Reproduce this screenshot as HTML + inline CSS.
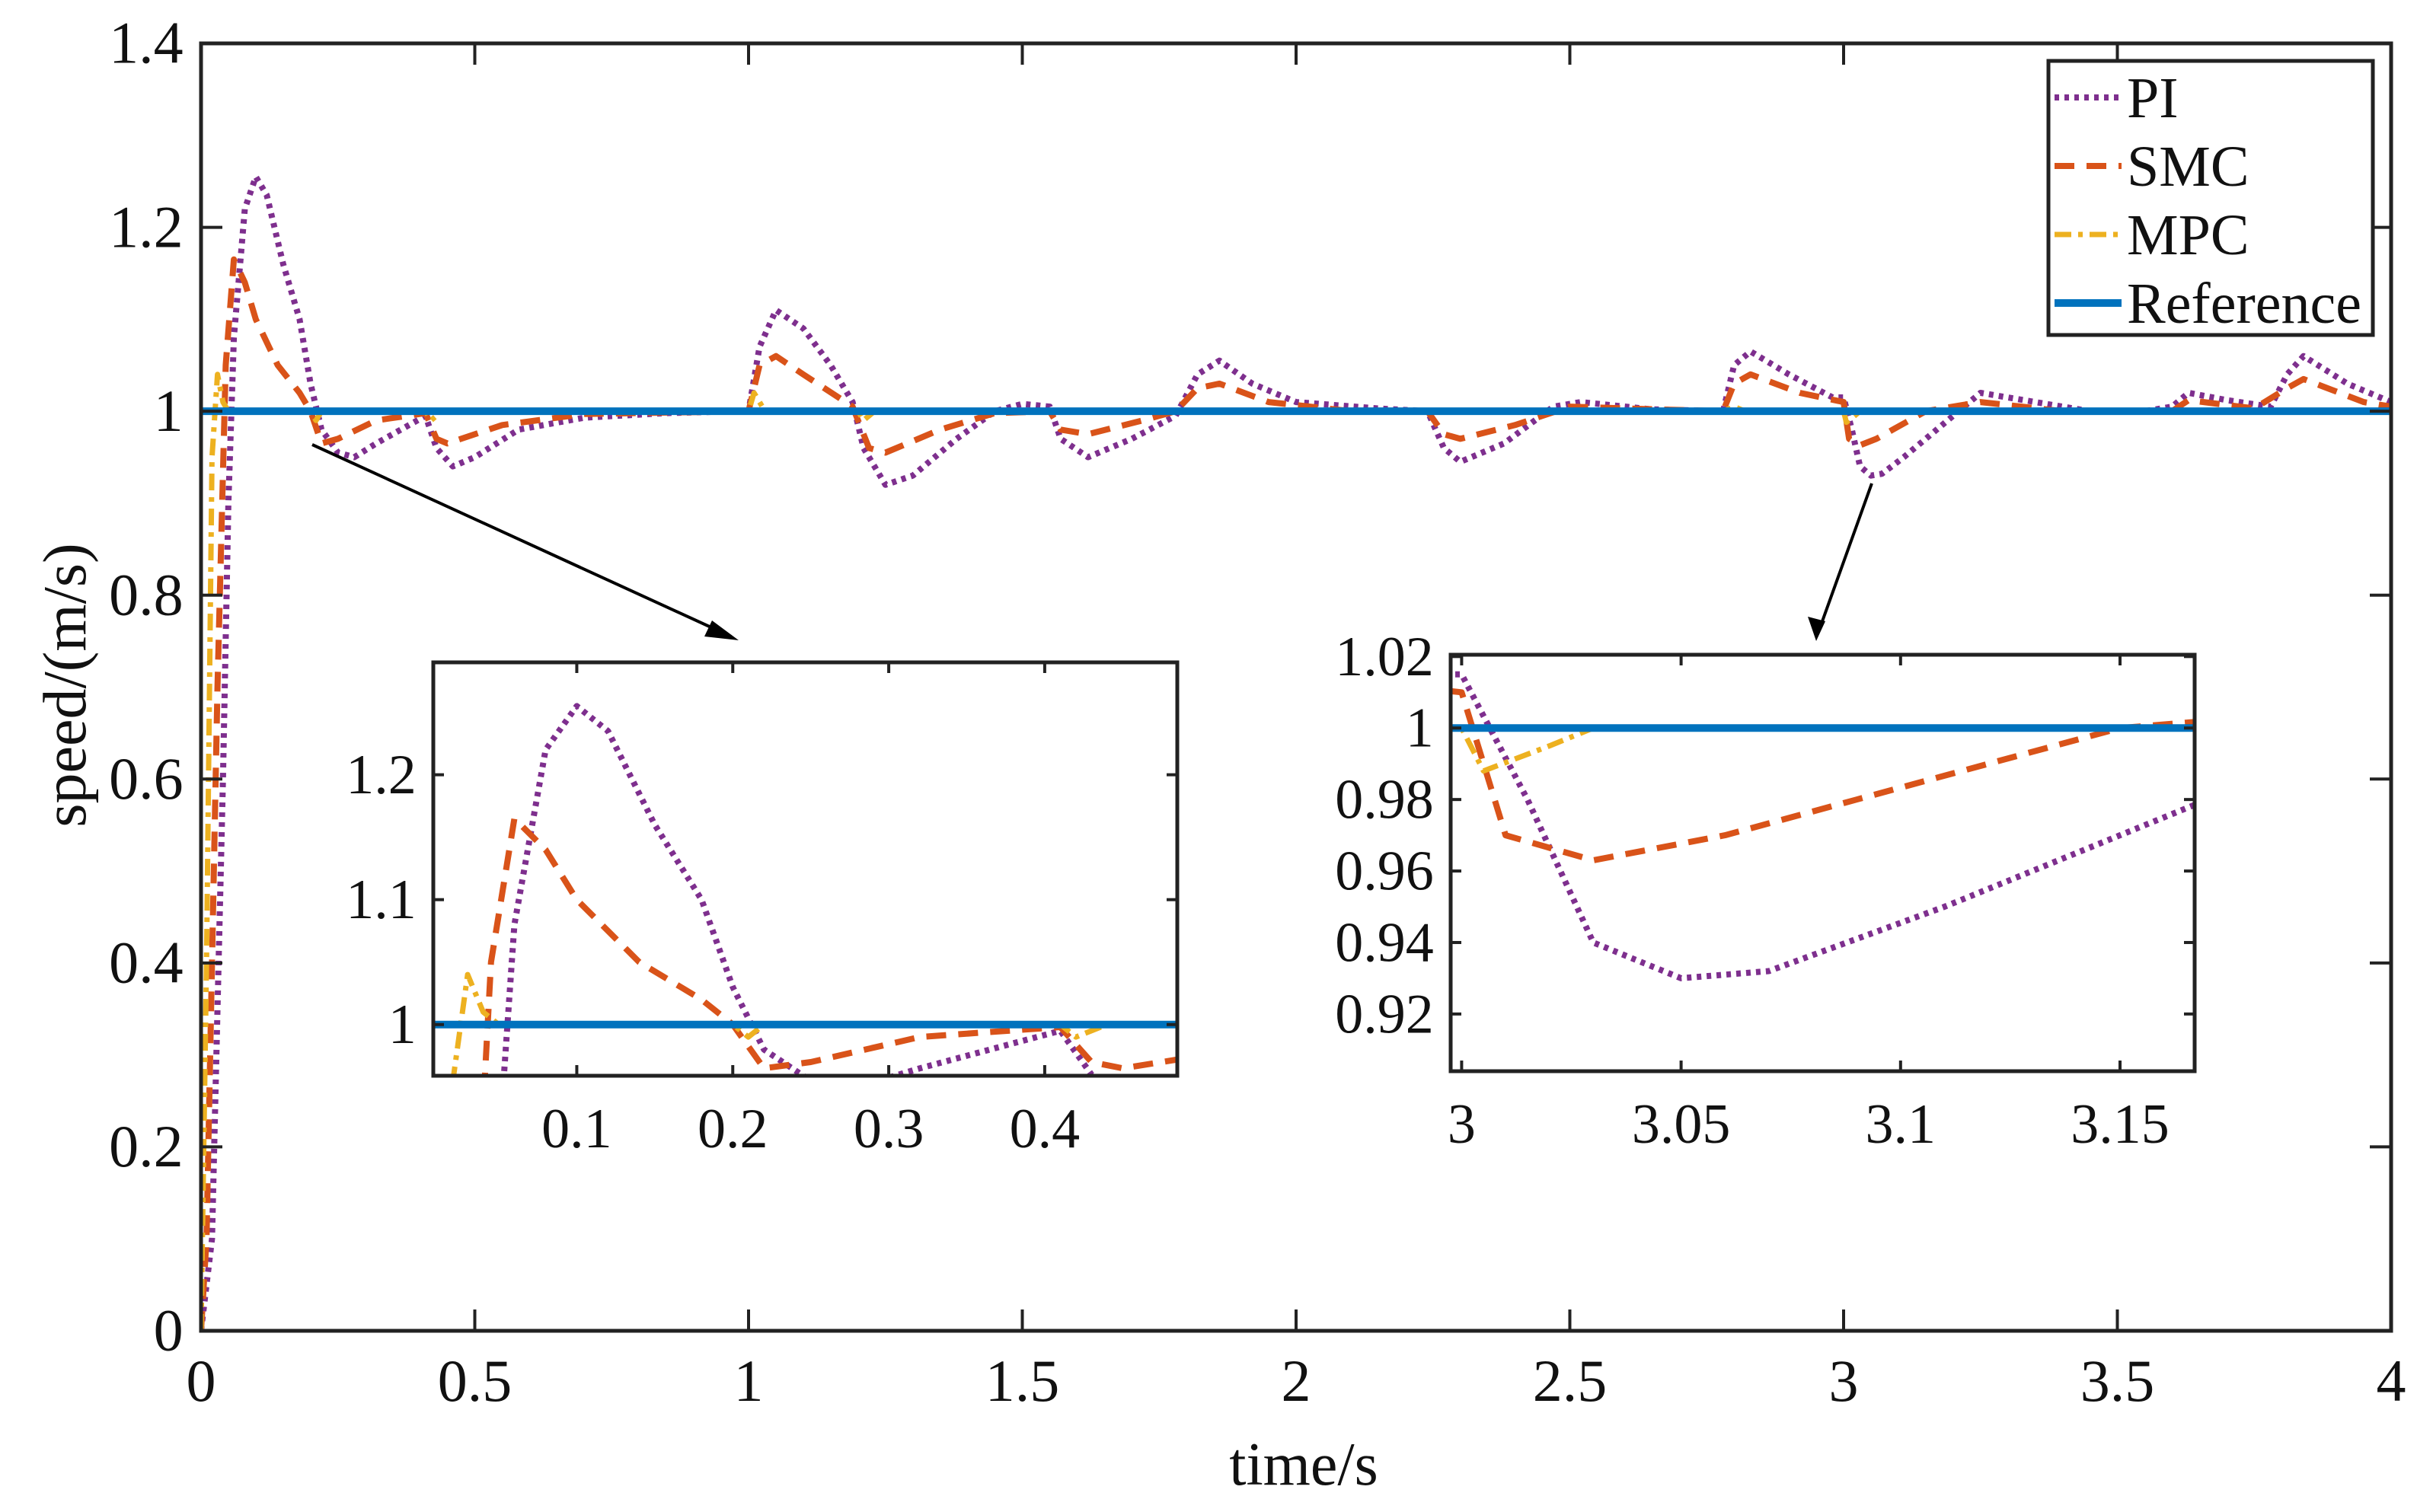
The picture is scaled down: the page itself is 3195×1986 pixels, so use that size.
<!DOCTYPE html>
<html><head><meta charset="utf-8"><style>
html,body{margin:0;padding:0;background:#fff;overflow:hidden;width:3195px;height:1986px;}
svg{display:block;font-family:"Liberation Serif",serif;}
</style></head><body>
<svg id="chart" xmlns="http://www.w3.org/2000/svg" width="3195" height="1986" viewBox="0 0 3195 1986">
<rect x="0" y="0" width="3195" height="1986" fill="#fff"/>
<g id="root"></g>
</svg>
<script>
// ---- data ----
const piT=[0,0.02,0.04,0.05,0.06,0.08,0.1,0.12,0.15,0.18,0.2,0.22,0.25,0.28,0.32,0.38,0.41,0.43,0.46,0.5,0.58,0.7,0.85,0.98,1.0,1.02,1.05,1.1,1.15,1.19,1.21,1.25,1.3,1.38,1.45,1.5,1.55,1.57,1.62,1.7,1.78,1.82,1.86,1.92,2.0,2.15,2.24,2.27,2.3,2.38,2.47,2.52,2.65,2.78,2.8,2.83,2.9,2.98,3.0,3.015,3.03,3.05,3.07,3.11,3.15,3.2,3.25,3.35,3.45,3.55,3.6,3.63,3.7,3.78,3.81,3.84,3.92,4.0];
const piV=[0,0.1,0.6,0.9,1.08,1.22,1.255,1.235,1.16,1.1,1.03,0.98,0.955,0.95,0.965,0.985,0.995,0.96,0.94,0.95,0.98,0.993,0.998,1.0,1.0,1.07,1.11,1.09,1.05,1.01,0.96,0.92,0.93,0.97,1.0,1.008,1.005,0.97,0.95,0.97,0.995,1.04,1.055,1.03,1.01,1.003,1.0,0.96,0.945,0.965,1.005,1.01,1.002,1.0,1.05,1.065,1.04,1.015,1.015,0.98,0.94,0.93,0.932,0.95,0.97,0.995,1.02,1.01,1.0,1.0,1.005,1.02,1.012,1.005,1.04,1.06,1.03,1.01];
const smcT=[0,0.01,0.03,0.045,0.06,0.08,0.1,0.14,0.18,0.2,0.22,0.25,0.32,0.41,0.43,0.45,0.55,0.7,1.0,1.02,1.05,1.1,1.19,1.22,1.25,1.35,1.45,1.55,1.57,1.62,1.72,1.78,1.82,1.86,1.95,2.1,2.24,2.27,2.3,2.4,2.5,2.6,2.78,2.8,2.83,2.92,3.0,3.01,3.03,3.06,3.09,3.12,3.15,3.2,3.25,3.4,3.6,3.63,3.75,3.81,3.84,3.95,4.0];
const smcV=[0,0.1,0.7,1.05,1.165,1.14,1.1,1.05,1.02,1.0,0.965,0.97,0.99,0.998,0.97,0.965,0.985,0.997,1.0,1.05,1.06,1.04,1.005,0.96,0.955,0.98,0.998,1.0,0.98,0.975,0.99,1.0,1.025,1.03,1.01,1.0,1.0,0.975,0.97,0.985,1.005,1.003,1.0,1.03,1.04,1.02,1.01,0.97,0.963,0.97,0.98,0.99,1.0,1.005,1.01,1.0,1.0,1.012,1.003,1.025,1.035,1.01,1.005];
const mpcT=[0,0.01,0.02,0.03,0.04,0.05,0.2,0.21,0.22,0.41,0.42,0.44,1.0,1.01,1.03,1.2,1.21,1.23,2.78,2.8,2.82,3.0,3.005,3.02,3.03,4.0];
const mpcV=[0,0.4,0.95,1.04,1.01,1.0,1.0,0.99,1.0,1.0,0.99,1.0,1.0,1.02,1.0,1.0,0.99,1.0,1.0,1.005,1.0,1.0,0.988,0.995,1.0,1.0];
const refT=[0,4];
const refV=[1,1];
const mainXTicks=[0,0.5,1,1.5,2,2.5,3,3.5,4];
const mainXLabels=["0","0.5","1","1.5","2","2.5","3","3.5","4"];
const mainYTicks=[0,0.2,0.4,0.6,0.8,1,1.2,1.4];
const mainYLabels=["0","0.2","0.4","0.6","0.8","1","1.2","1.4"];
const in1XTicks=[0.1,0.2,0.3,0.4];
const in1XLabels=["0.1","0.2","0.3","0.4"];
const in1YTicks=[1,1.1,1.2];
const in1YLabels=["1","1.1","1.2"];
const in2XTicks=[3,3.05,3.1,3.15];
const in2XLabels=["3","3.05","3.1","3.15"];
const in2YTicks=[0.92,0.94,0.96,0.98,1,1.02];
const in2YLabels=["0.92","0.94","0.96","0.98","1","1.02"];

const NS="http://www.w3.org/2000/svg";
const root=document.getElementById('root');
function mk(tag,attrs,parent){const e=document.createElementNS(NS,tag);for(const k in attrs)e.setAttribute(k,attrs[k]);(parent||root).appendChild(e);return e;}
function scale(d0,d1,r0,r1){return v=>r0+(v-d0)/(d1-d0)*(r1-r0);}

const series=[
 {name:'pi',t:piT,v:piV,color:'#7E2F8E',w:8,dash:'6 7'},
 {name:'smc',t:smcT,v:smcV,color:'#D95319',w:8,dash:'26 16'},
 {name:'mpc',t:mpcT,v:mpcV,color:'#EDB120',w:7,dash:'22 9 6 9'},
 {name:'reference',t:refT,v:refV,color:'#0072BD',w:10,dash:''}
];

function drawAxes(id,box,xd,yd,xt,xl,yt,yl,fs,tickLen,xlOff){
  const g=mk('g',{});
  
  
  const X=scale(xd[0],xd[1],box.x0,box.x1), Y=scale(yd[0],yd[1],box.y1,box.y0);
  mk('rect',{x:box.x0,y:box.y0,width:box.x1-box.x0,height:box.y1-box.y0,fill:'#fff'},g);
  const cp=mk('clipPath',{id:id+'-clip'},g);
  mk('rect',{x:box.x0,y:box.y0,width:box.x1-box.x0,height:box.y1-box.y0},cp);
  const lg=mk('g',{'clip-path':'url(#'+id+'-clip)'},g);
  series.forEach(s=>{
    const pts=s.t.map((t,i)=>X(t).toFixed(1)+','+Y(s.v[i]).toFixed(1)).join(' ');
    const p=mk('polyline',{points:pts,fill:'none',stroke:s.color,'stroke-width':s.w,'stroke-dasharray':s.dash,'stroke-linejoin':'round'},lg);
    
    
  });
  const fr=mk('rect',{x:box.x0,y:box.y0,width:box.x1-box.x0,height:box.y1-box.y0,fill:'none',stroke:'#222','stroke-width':5},g);
  
  
  xt.forEach((t,i)=>{
    const x=X(t);
    mk('line',{x1:x,y1:box.y1,x2:x,y2:box.y1-tickLen,stroke:'#222','stroke-width':4},g);
    mk('line',{x1:x,y1:box.y0,x2:x,y2:box.y0+tickLen,stroke:'#222','stroke-width':4},g);
    const tx=mk('text',{x:x,y:box.y1+xlOff,'font-size':fs,'text-anchor':'middle',fill:'#111'},g);
    tx.textContent=xl[i];
    
    
  });
  yt.forEach((t,i)=>{
    const y=Y(t);
    mk('line',{x1:box.x0,y1:y,x2:box.x0+tickLen,y2:y,stroke:'#222','stroke-width':4},g);
    mk('line',{x1:box.x1,y1:y,x2:box.x1-tickLen,y2:y,stroke:'#222','stroke-width':4},g);
    const ty=mk('text',{x:box.x0-fs*0.3,y:y+fs*0.33,'font-size':fs,'text-anchor':'end',fill:'#111'},g);
    ty.textContent=yl[i];
    
    
  });
}

drawAxes('main-axes',{x0:264,x1:3140,y0:57,y1:1748},[0,4],[0,1.4],mainXTicks,mainXLabels,mainYTicks,mainYLabels,78,28,92);

// arrows
const arr=mk('g',{});


mk('line',{x1:410,y1:584,x2:960,y2:836,stroke:'#000','stroke-width':4},arr);
mk('polygon',{points:'970,841 925,836 935,815',fill:'#000'},arr);
mk('line',{x1:2458,y1:635,x2:2388,y2:830,stroke:'#000','stroke-width':4},arr);
mk('polygon',{points:'2385,842 2374,810 2397,816',fill:'#000'},arr);

drawAxes('inset-1',{x0:569,x1:1546,y0:870,y1:1413},[0.008,0.485],[0.959,1.29],in1XTicks,in1XLabels,in1YTicks,in1YLabels,74,14,94);
drawAxes('inset-2',{x0:1905,x1:2882,y0:860,y1:1407},[2.9975,3.167],[0.904,1.0205],in2XTicks,in2XLabels,in2YTicks,in2YLabels,74,14,94);

// axis titles
const xt=mk('text',{x:1712,y:1950,'font-size':80,'text-anchor':'middle',fill:'#111'});
xt.textContent='time/s';


const yt=mk('text',{x:0,y:0,'font-size':80,'text-anchor':'middle',fill:'#111',transform:'translate(112,900) rotate(-90)'});
yt.textContent='speed/(m/s)';



// legend
const lgd=mk('g',{});


mk('rect',{x:2690,y:80,width:426,height:360,fill:'#fff',stroke:'#222','stroke-width':5},lgd);
const names=['PI','SMC','MPC','Reference'];
series.forEach((s,i)=>{
  const y=128+i*90;
  const e=mk('g',{},lgd);
  
  
  mk('line',{x1:2698,y1:y,x2:2786,y2:y,stroke:s.color,'stroke-width':s.w,'stroke-dasharray':s.dash},e);
  const t=mk('text',{x:2793,y:y+26,'font-size':76,fill:'#111'},e);
  t.textContent=names[i];
});
</script>
</body></html>
